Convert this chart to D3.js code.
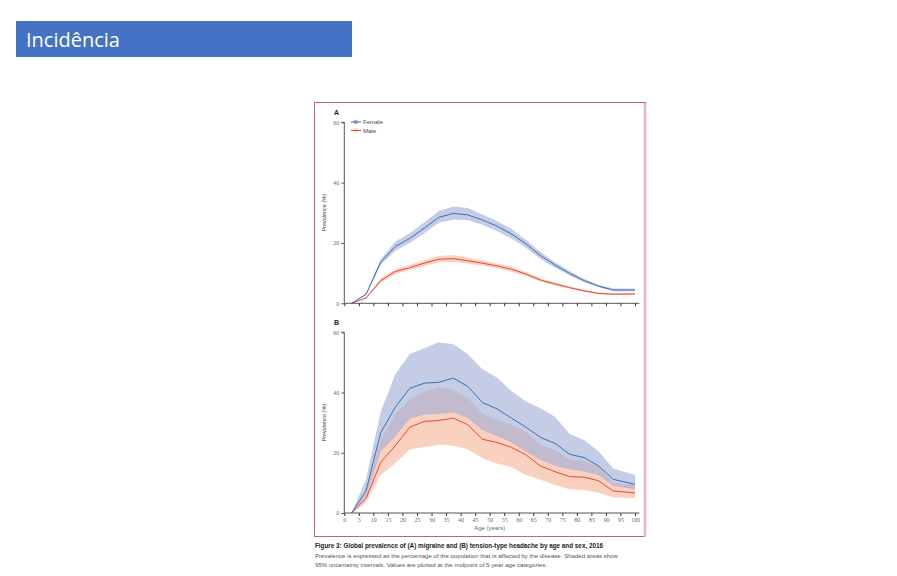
<!DOCTYPE html>
<html>
<head>
<meta charset="utf-8">
<script src="https://cdn.jsdelivr.net/npm/d3@7"></script>
<style>
  body { margin: 0; background: #fff; }
  svg { display: block; }
</style>
</head>
<body>
<div id="chart"></div>
<script>
// age midpoints (last group plotted at the axis end)
const ages = [2.5, 7.5, 12.5, 17.5, 22.5, 27.5, 32.5, 37.5, 42.5, 47.5, 52.5, 57.5, 62.5, 67.5, 72.5, 77.5, 82.5, 87.5, 92.5, 100]
const xTicks = d3.range(0, 101, 5)
const yTicks = [0, 20, 40, 60]

// A: migraine
const migFemale    = [0, 3.0, 13.6, 18.8, 21.5, 24.9, 28.5, 29.8, 29.3, 27.6, 25.6, 23.0, 19.7, 15.8, 12.7, 9.9, 7.5, 5.7, 4.4, 4.4]
const migFemaleLo  = [0, 2.7, 12.8, 17.3, 20.0, 23.2, 26.7, 27.8, 27.5, 26.0, 24.0, 21.5, 18.4, 14.7, 11.8, 9.2, 7.0, 5.3, 4.0, 4.0]
const migFemaleHi  = [0, 3.3, 14.5, 20.4, 23.2, 26.8, 30.6, 32.1, 31.6, 29.4, 27.3, 24.6, 21.0, 17.0, 13.6, 10.7, 8.1, 6.1, 4.9, 4.9]
const migMale      = [0, 1.8, 7.5, 10.5, 11.8, 13.3, 14.6, 14.8, 14.1, 13.3, 12.4, 11.3, 9.7, 7.7, 6.4, 5.2, 4.1, 3.3, 3.0, 3.1]
const migMaleLo    = [0, 1.6, 6.9, 9.7, 11.0, 12.4, 13.6, 13.8, 13.2, 12.5, 11.6, 10.5, 9.0, 7.2, 5.9, 4.8, 3.8, 3.0, 2.8, 2.8]
const migMaleHi    = [0, 2.0, 8.1, 11.3, 12.7, 14.3, 15.7, 16.0, 15.1, 14.2, 13.2, 12.1, 10.4, 8.3, 6.9, 5.6, 4.5, 3.6, 3.3, 3.4]

// B: tension-type headache
const tthFemale    = [0, 7.4, 26.6, 35.1, 41.4, 43.1, 43.4, 44.8, 42.0, 36.7, 34.6, 31.5, 28.5, 25.1, 23.1, 19.5, 18.4, 15.6, 11.2, 9.5]
const tthFemaleLo  = [0, 5.5, 20.4, 25.3, 31.4, 32.6, 32.9, 33.4, 31.5, 27.6, 25.6, 23.4, 20.4, 17.6, 15.6, 14.5, 13.7, 12.6, 9.0, 7.9]
const tthFemaleHi  = [0, 11.2, 33.5, 46.0, 52.8, 54.7, 56.7, 56.0, 52.7, 47.7, 45.0, 40.5, 37.0, 34.8, 32.0, 26.2, 24.2, 20.4, 14.8, 12.6]
const tthMale      = [0, 4.9, 16.8, 22.3, 28.5, 30.4, 30.7, 31.5, 29.3, 24.5, 23.4, 21.8, 19.3, 15.6, 13.7, 12.1, 11.9, 10.7, 7.3, 6.7]
const tthMaleLo    = [0, 3.5, 12.6, 16.5, 21.1, 21.9, 22.7, 22.3, 21.2, 18.2, 16.4, 15.2, 12.6, 11.0, 9.3, 7.9, 7.6, 6.7, 5.2, 4.9]
const tthMaleHi    = [0, 6.5, 24.0, 32.9, 37.5, 40.3, 41.7, 40.9, 38.1, 33.1, 31.0, 29.2, 27.0, 22.6, 20.9, 17.6, 17.3, 15.4, 9.9, 9.3]

const width = 897, height = 576
const femaleLine = '#3b6fb4', maleLine = '#e8473a'
const femaleBand = 'rgb(160,172,214)', maleBand = 'rgb(250,208,190)'
const tickColor = '#5b6a8a'

const svg = d3.select('#chart').append('svg')
  .attr('width', width)
  .attr('height', height)

// slide title
svg.append('rect')
  .attr('x', 16).attr('y', 21).attr('width', 336).attr('height', 36)
  .attr('fill', '#4472c4')
svg.append('text')
  .attr('x', 26).attr('y', 47)
  .attr('fill', '#fff')
  .style('font-family', '"Open Sans", sans-serif')
  .style('font-size', '20px')
  .text('Incidência')

// figure frame
svg.append('rect')
  .attr('x', 314.5).attr('y', 102.5).attr('width', 331).attr('height', 434)
  .attr('fill', 'none')
  .attr('stroke', '#cc5c7c')
  .attr('stroke-width', 1)
svg.append('line')
  .attr('x1', 645).attr('x2', 645).attr('y1', 103).attr('y2', 537)
  .attr('stroke', '#eab0c6').attr('stroke-width', 2.5)

const x = d3.scaleLinear().domain([0, 100]).range([344.3, 635])

const drawPanel = (opt) => {
  const y = d3.scaleLinear().domain([0, 60]).range([opt.bottom, opt.top])
  const g = svg.append('g')

  const area = (lo, hi) => d3.area()
    .x((d, i) => x(ages[i]))
    .y0((d, i) => y(lo[i]))
    .y1((d, i) => y(hi[i]))(ages)
  const line = vals => d3.line()
    .x((d, i) => x(ages[i]))
    .y((d, i) => y(vals[i]))(ages)

  g.append('path').attr('d', area(opt.mLo, opt.mHi)).attr('fill', maleBand)
  g.append('path').attr('d', area(opt.fLo, opt.fHi)).attr('fill', femaleBand).attr('fill-opacity', 0.62)
  g.append('path').attr('d', line(opt.m)).attr('fill', 'none').attr('stroke', maleLine).attr('stroke-width', 1)
  g.append('path').attr('d', line(opt.f)).attr('fill', 'none').attr('stroke', femaleLine).attr('stroke-width', 1)

  // y axis
  const yAxis = g.append('g')
    .attr('transform', `translate(${x(0)},0)`)
    .call(d3.axisLeft(y).tickValues(yTicks).tickSize(3).tickPadding(2))
  yAxis.select('.domain').attr('stroke', '#555').attr('d', `M-3,${y(60)}H0V${y(0)}`)
  yAxis.selectAll('line').attr('stroke', '#555')
  yAxis.selectAll('text').attr('fill', tickColor).style('font-size', '6px').style('font-family', '"Liberation Serif", serif')

  // x axis
  const xAxis = g.append('g')
    .attr('transform', `translate(0,${y(0)})`)
    .call(d3.axisBottom(x).tickValues(xTicks).tickSize(3).tickPadding(2)
      .tickFormat(opt.xLabels ? d3.format('d') : ''))
  xAxis.select('.domain').attr('stroke', '#555').attr('d', `M${x(0)},0H${x(101.5)}`)
  xAxis.selectAll('line').attr('stroke', '#333')
  xAxis.selectAll('text').attr('fill', tickColor).style('font-size', '6px').style('font-family', '"Liberation Serif", serif')

  g.append('text')
    .attr('transform', `translate(326,${(y(0) + y(60)) / 2}) rotate(-90)`)
    .attr('text-anchor', 'middle')
    .attr('fill', '#444')
    .style('font-family', '"Liberation Sans", sans-serif')
    .style('font-size', '5.5px')
    .text('Prevalence (%)')

  g.append('text')
    .attr('x', 334).attr('y', opt.top - 7)
    .attr('fill', '#222')
    .style('font-family', '"Liberation Sans", sans-serif')
    .style('font-weight', 'bold')
    .style('font-size', '7px')
    .text(opt.label)
  return y
}

drawPanel({ top: 122.3, bottom: 303.3, label: 'A', xLabels: false,
  f: migFemale, fLo: migFemaleLo, fHi: migFemaleHi, m: migMale, mLo: migMaleLo, mHi: migMaleHi })
drawPanel({ top: 332.3, bottom: 513, label: 'B', xLabels: true,
  f: tthFemale, fLo: tthFemaleLo, fHi: tthFemaleHi, m: tthMale, mLo: tthMaleLo, mHi: tthMaleHi })

// legend (panel A)
const legend = svg.append('g').attr('transform', 'translate(351,122)')
const legendItems = [['Female', femaleLine, femaleBand], ['Male', maleLine, maleBand]]
legendItems.forEach(([name, col, band], i) => {
  const gi = legend.append('g').attr('transform', `translate(0,${i * 8.5})`)
  gi.append('rect').attr('x', 3).attr('y', -1.8).attr('width', 3.6).attr('height', 3.6).attr('fill', band)
  gi.append('line').attr('x1', 0).attr('x2', 10).attr('stroke', col).attr('stroke-width', 1)
  gi.append('text').attr('x', 12).attr('y', 2)
    .attr('fill', '#444')
    .style('font-family', '"Liberation Sans", sans-serif')
    .style('font-size', '6px')
    .text(name)
})

svg.append('text')
  .attr('x', x(50)).attr('y', 530)
  .attr('text-anchor', 'middle')
  .attr('fill', tickColor)
  .style('font-family', '"Liberation Sans", sans-serif')
  .style('font-size', '6px')
  .text('Age (years)')

// caption
const cap = svg.append('g').style('font-family', '"Liberation Sans", sans-serif')
cap.append('text').attr('x', 315).attr('y', 548)
  .attr('fill', '#222').style('font-weight', 'bold').style('font-size', '6.3px')
  .attr('textLength', 288).attr('lengthAdjust', 'spacingAndGlyphs')
  .text('Figure 3: Global prevalence of (A) migraine and (B) tension-type headache by age and sex, 2016')
cap.append('text').attr('x', 315).attr('y', 558)
  .attr('fill', '#555').style('font-size', '6px')
  .attr('textLength', 303).attr('lengthAdjust', 'spacingAndGlyphs')
  .text('Prevalence is expressed as the percentage of the population that is affected by the disease. Shaded areas show')
cap.append('text').attr('x', 315).attr('y', 567)
  .attr('fill', '#555').style('font-size', '6px')
  .attr('textLength', 232).attr('lengthAdjust', 'spacingAndGlyphs')
  .text('95% uncertainty intervals. Values are plotted at the midpoint of 5-year age categories.')
</script>
</body>
</html>
